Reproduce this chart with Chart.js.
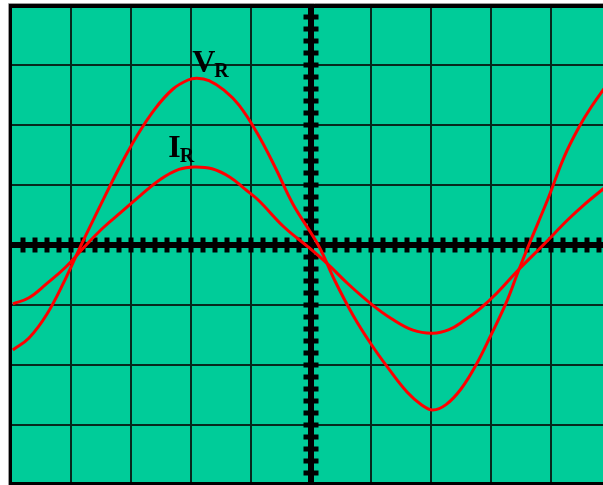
<!DOCTYPE html>
<html>
<head>
<meta charset="utf-8">
<script src="https://cdn.jsdelivr.net/npm/chart.js@4"></script>
<style>
  html, body { margin: 0; padding: 0; background: #fff; }
  #wrap { position: relative; width: 603px; height: 485px; overflow: hidden; background: #fff; }
  #c { position: absolute; left: 0; top: 0; }
</style>
</head>
<body>
<div id="wrap"><canvas id="c" width="620" height="490"></canvas></div>
<script>
// Horizontal / vertical divisions of the oscilloscope screen
const xDivs = [-5, -4, -3, -2, -1, 0, 1, 2, 3, 4, 5];
const yDivs = [-4, -3, -2, -1, 0, 1, 2, 3, 4];

// V_R trace (screen divisions)
const vrX = [-4.97, -4.70, -4.40, -4.10, -3.83, -3.50, -3.20, -2.90, -2.60, -2.30, -2.05, -1.90, -1.70, -1.45, -1.20, -0.90, -0.60, -0.30, 0.12, 0.40, 0.70, 1.00, 1.30, 1.60, 1.85, 2.03, 2.25, 2.50, 2.75, 3.00, 3.25, 3.45, 3.63, 3.95, 4.22, 4.47, 4.67, 4.95];
const vrY = [-1.75, -1.55, -1.15, -0.58, 0.00, 0.68, 1.28, 1.82, 2.27, 2.60, 2.75, 2.78, 2.74, 2.58, 2.33, 1.87, 1.30, 0.68, 0.00, -0.60, -1.17, -1.65, -2.07, -2.45, -2.67, -2.75, -2.66, -2.40, -2.00, -1.50, -0.97, -0.45, 0.00, 0.77, 1.47, 1.97, 2.30, 2.70];

// I_R trace (screen divisions)
const irX = [-4.97, -4.70, -4.40, -4.10, -3.72, -3.45, -3.15, -2.85, -2.50, -2.20, -1.95, -1.65, -1.35, -1.10, -0.88, -0.45, -0.05, 0.28, 0.62, 1.00, 1.33, 1.70, 2.03, 2.30, 2.55, 2.83, 3.10, 3.47, 3.87, 4.28, 4.55, 4.95];
const irY = [-0.98, -0.88, -0.64, -0.38, 0.03, 0.30, 0.56, 0.82, 1.10, 1.26, 1.30, 1.27, 1.13, 0.93, 0.75, 0.30, -0.03, -0.32, -0.65, -0.98, -1.22, -1.42, -1.47, -1.41, -1.26, -1.05, -0.80, -0.40, 0.00, 0.42, 0.67, 1.00];

// Trace labels: [main, subscript, x, y]
const labels = [["V", "R", -1.98, 2.88], ["I", "R", -2.38, 1.47]];

const toPts = (xs, ys) => xs.map((x, i) => ({ x: x, y: ys[i] }));

const scopePlugin = {
  id: 'scope',
  beforeDatasetsDraw(chart) {
    const ctx = chart.ctx, xs = chart.scales.x, ys = chart.scales.y, a = chart.chartArea;
    ctx.save();
    ctx.beginPath();
    ctx.rect(a.left, a.top, a.right - a.left, a.bottom - a.top);
    ctx.clip();
    // screen background
    ctx.fillStyle = '#00CC99';
    ctx.fillRect(a.left, a.top, a.right - a.left, a.bottom - a.top);
    // grid
    ctx.strokeStyle = '#062a1e';
    ctx.lineWidth = 2;
    xDivs.forEach(v => {
      if (v === 0 || v === xDivs[0] || v === xDivs[xDivs.length - 1]) return;
      const p = Math.round(xs.getPixelForValue(v));
      ctx.beginPath(); ctx.moveTo(p, a.top); ctx.lineTo(p, a.bottom); ctx.stroke();
    });
    yDivs.forEach(v => {
      if (v === 0 || v === yDivs[0] || v === yDivs[yDivs.length - 1]) return;
      const p = Math.round(ys.getPixelForValue(v));
      ctx.beginPath(); ctx.moveTo(a.left, p); ctx.lineTo(a.right, p); ctx.stroke();
    });
    // central axes with minor tick marks
    const cx = xs.getPixelForValue(0), cy = ys.getPixelForValue(0);
    ctx.fillStyle = '#000';
    ctx.fillRect(a.left, cy - 3, a.right - a.left, 6);
    ctx.fillRect(cx - 3, a.top, 6, a.bottom - a.top);
    for (let k = -24; k <= 24; k++) {
      const px = xs.getPixelForValue(k * 0.2);
      ctx.fillRect(px - 2.5, cy - 7.5, 5, 15);
    }
    for (let k = -19; k <= 19; k++) {
      const py = ys.getPixelForValue(k * 0.2);
      ctx.fillRect(cx - 7.5, py - 2.5, 15, 5);
    }
    ctx.restore();
    // frame
    ctx.save();
    ctx.fillStyle = '#000';
    ctx.fillRect(a.left - 2, a.top, 3, a.bottom - a.top);
    ctx.fillRect(a.left - 2, a.top - 1, chart.width, 4);
    ctx.fillRect(a.left - 2, a.bottom - 3, chart.width, 4);
    ctx.strokeStyle = '#9a9a9a';
    ctx.lineWidth = 1;
    ctx.beginPath();
    ctx.moveTo(a.left - 2.5, chart.height); ctx.lineTo(a.left - 2.5, a.top - 1.5); ctx.lineTo(chart.width, a.top - 1.5);
    ctx.stroke();
    ctx.restore();
  },
  afterDatasetsDraw(chart) {
    const ctx = chart.ctx, xs = chart.scales.x, ys = chart.scales.y;
    ctx.save();
    ctx.fillStyle = '#000';
    ctx.textBaseline = 'alphabetic';
    labels.forEach(([m, s, x, y]) => {
      const px = xs.getPixelForValue(x), py = ys.getPixelForValue(y);
      ctx.font = 'bold 32px "Liberation Serif", "Times New Roman", serif';
      ctx.fillText(m, px, py);
      const w = ctx.measureText(m).width;
      ctx.font = 'bold 20px "Liberation Serif", "Times New Roman", serif';
      ctx.fillText(s, px + w - 1, py + 5);
    });
    ctx.restore();
  }
};

new Chart(document.getElementById('c'), {
  type: 'scatter',
  data: {
    datasets: [
      { label: 'V_R', data: toPts(vrX, vrY), showLine: true, borderColor: '#ff0000', borderWidth: 3, pointRadius: 0, tension: 0.4, fill: false },
      { label: 'I_R', data: toPts(irX, irY), showLine: true, borderColor: '#ff0000', borderWidth: 3, pointRadius: 0, tension: 0.4, fill: false }
    ]
  },
  options: {
    responsive: false,
    animation: false,
    events: [],
    layout: { padding: { left: 11, right: 9, top: 5, bottom: 5 } },
    plugins: { legend: { display: false }, tooltip: { enabled: false } },
    scales: {
      x: { type: 'linear', display: false, min: xDivs[0], max: xDivs[xDivs.length - 1] },
      y: { type: 'linear', display: false, min: yDivs[0], max: yDivs[yDivs.length - 1] }
    }
  },
  plugins: [scopePlugin]
});
</script>
</body>
</html>
